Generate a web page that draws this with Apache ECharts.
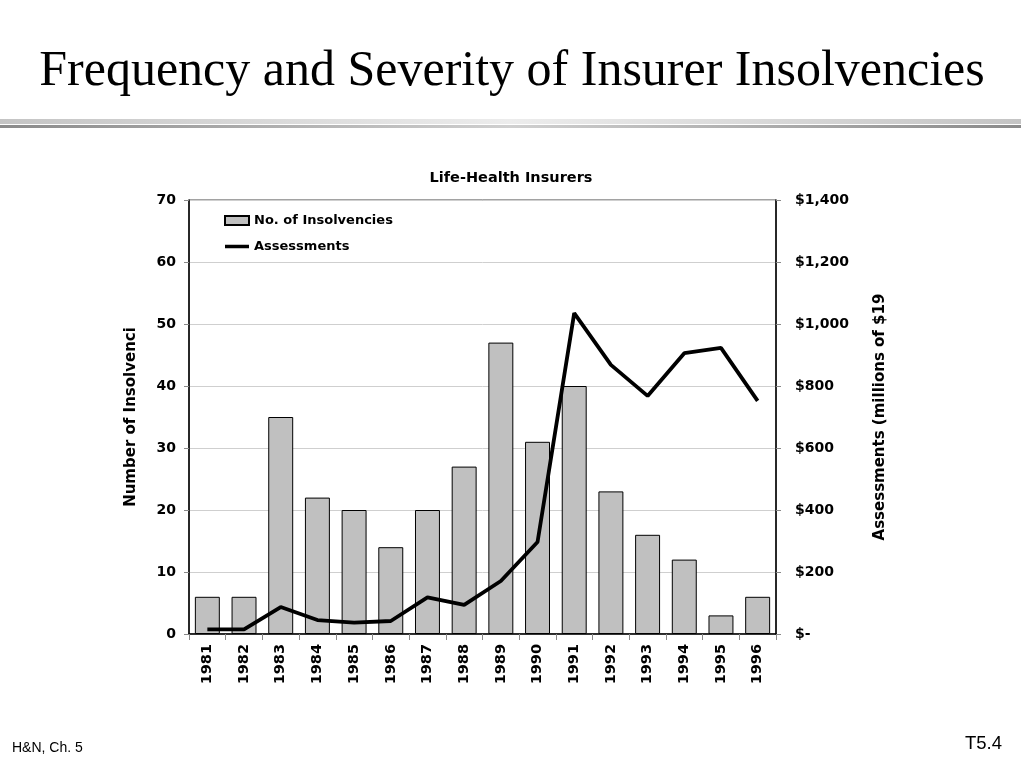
<!DOCTYPE html>
<html>
<head>
<meta charset="utf-8">
<script src="https://cdn.jsdelivr.net/npm/echarts@6/dist/echarts.min.js"></script>
<style>
html,body{margin:0;padding:0;background:#fff;}
#chart{width:1024px;height:768px;}
</style>
</head>
<body>
<div id="chart"></div>
<script>
var years = ['1981','1982','1983','1984','1985','1986','1987','1988','1989','1990','1991','1992','1993','1994','1995','1996'];
var insolvencies = [6, 6, 35, 22, 20, 14, 20, 27, 47, 31, 40, 23, 16, 12, 3, 6];
var assessments = [15, 15, 87, 45, 37, 42, 118, 94, 171, 297, 1035, 868, 768, 906, 923, 752];
var leftTicks = [0, 10, 20, 30, 40, 50, 60, 70];
var rightTicks = [0, 200, 400, 600, 800, 1000, 1200, 1400];

var chart = echarts.init(document.getElementById('chart'));
var sans = 'DejaVu Sans, Verdana, sans-serif';
function money(v) {
  if (v === 0) return '$-';
  return '$' + String(v).replace(/\B(?=(\d{3})+(?!\d))/g, ',');
}
chart.setOption({
  backgroundColor: '#ffffff',
  animation: false,
  title: [
    {
      text: 'Frequency and Severity of Insurer Insolvencies',
      left: 'center', top: 42,
      textStyle: { fontFamily: 'Liberation Serif, Times New Roman, serif', fontSize: 50, fontWeight: 'normal', color: '#000' }
    },
    {
      text: 'Life-Health Insurers',
      left: 506, top: 166, textAlign: 'center',
      textStyle: { fontFamily: sans, fontSize: 14.5, fontWeight: 'bold', color: '#000' }
    }
  ],
  graphic: [
    {
      type: 'rect', shape: { x: 0, y: 119, width: 1021, height: 5 },
      style: { fill: new echarts.graphic.LinearGradient(0, 0, 1, 0, [
        { offset: 0, color: '#c4c4c4' }, { offset: 0.5, color: '#ececec' }, { offset: 1, color: '#c4c4c4' }]) }
    },
    {
      type: 'rect', shape: { x: 0, y: 125, width: 1021, height: 3 },
      style: { fill: new echarts.graphic.LinearGradient(0, 0, 1, 0, [
        { offset: 0, color: '#8a8a8a' }, { offset: 0.5, color: '#cfcfcf' }, { offset: 1, color: '#8a8a8a' }]) }
    },
    {
      type: 'text', left: 12, top: 741,
      style: { text: 'H&N, Ch. 5', font: '14px Liberation Sans, Arial, sans-serif', fill: '#000' }
    },
    {
      type: 'text', left: 965, top: 734,
      style: { text: 'T5.4', font: '18.5px Liberation Sans, Arial, sans-serif', fill: '#000' }
    }
  ],
  legend: {
    orient: 'vertical',
    left: 219, top: 209,
    itemWidth: 24, itemHeight: 9, itemGap: 13,
    textStyle: { fontFamily: sans, fontSize: 13, fontWeight: 'bold', color: '#000' },
    data: [
      { name: 'No. of Insolvencies', icon: 'rect' },
      { name: 'Assessments', icon: 'path://M0,0h0.01v0.01h-0.01zM0,2.7h24v3.6h-24zM24,9h-0.01v-0.01h0.01z' }
    ]
  },
  grid: {
    left: 189, right: 248, top: 200, bottom: 134,
    show: true, borderColor: '#444', borderWidth: 1, backgroundColor: 'transparent'
  },
  xAxis: {
    type: 'category',
    data: years,
    boundaryGap: true,
    axisLine: { lineStyle: { color: '#000', width: 1.5 } },
    axisTick: { show: true, alignWithLabel: false, length: 6, lineStyle: { color: '#888' } },
    axisLabel: { rotate: 90, margin: 10, fontFamily: sans, fontSize: 14.5, fontWeight: 'bold', color: '#000', interval: 0 }
  },
  yAxis: [
    {
      type: 'value', min: 0, max: 70, interval: 10,
      name: 'Number of Insolvenci', nameLocation: 'middle', nameRotate: 90, nameGap: 50,
      nameTextStyle: { fontFamily: sans, fontSize: 15, fontWeight: 'bold', color: '#000' },
      axisLine: { show: true, lineStyle: { color: '#000', width: 1.5 } },
      axisTick: { show: true, length: 5, lineStyle: { color: '#888' } },
      axisLabel: { margin: 13, fontFamily: sans, fontSize: 14, fontWeight: 'bold', color: '#000' },
      splitLine: { show: true, lineStyle: { color: '#cfcfcf', width: 1 } }
    },
    {
      type: 'value', min: 0, max: 1400, interval: 200, position: 'right',
      name: 'Assessments (millions of $19', nameLocation: 'middle', nameRotate: 90, nameGap: 97,
      nameTextStyle: { fontFamily: sans, fontSize: 15, fontWeight: 'bold', color: '#000' },
      axisLine: { show: true, lineStyle: { color: '#000', width: 1.5 } },
      axisTick: { show: true, length: 5, lineStyle: { color: '#888' } },
      axisLabel: { margin: 19, fontFamily: sans, fontSize: 14, fontWeight: 'bold', color: '#000', formatter: money },
      splitLine: { show: false }
    }
  ],
  series: [
    {
      name: 'No. of Insolvencies',
      type: 'bar',
      yAxisIndex: 0,
      data: insolvencies,
      barCategoryGap: '32%',
      itemStyle: { color: '#c0c0c0', borderColor: '#000', borderWidth: 1 }
    },
    {
      name: 'Assessments',
      type: 'line',
      yAxisIndex: 1,
      data: assessments,
      symbol: 'none',
      lineStyle: { color: '#000', width: 3.8 },
      itemStyle: { color: '#000' }
    }
  ]
});
</script>
</body>
</html>
